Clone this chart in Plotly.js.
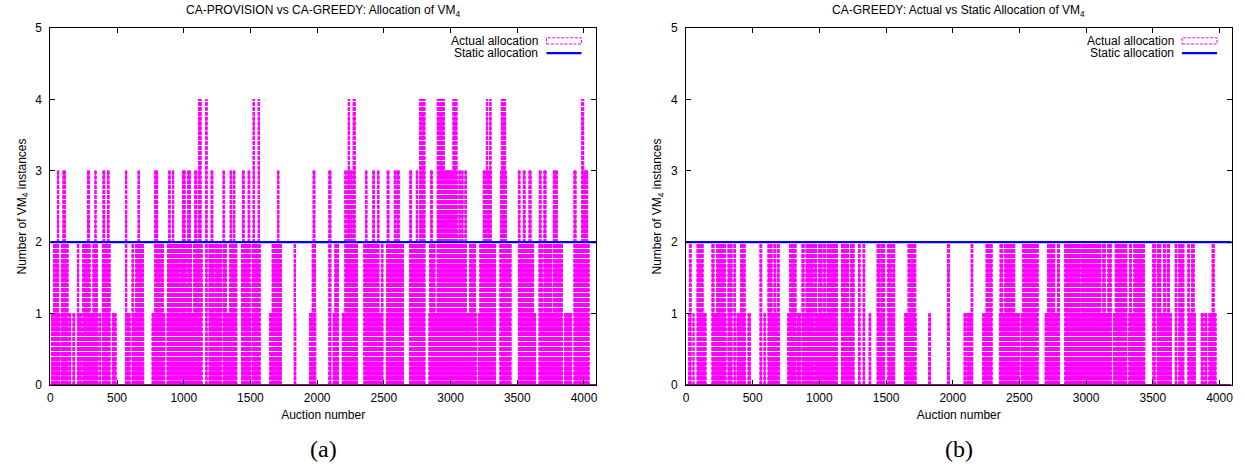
<!DOCTYPE html>
<html>
<head>
<meta charset="utf-8">
<script src="https://cdn.plot.ly/plotly-3.0.1.min.js"></script>
<style>html,body{margin:0;padding:0;background:#fff;}#chart{width:1245px;height:468px;}</style>
</head>
<body>
<div id="chart"></div>
<script>
// ---------------- DATA (run-length encoded) ----------------
// Panel (a): CA-PROVISION vs CA-GREEDY, allocation of VM4 per auction
const provRunStart = [
  // value 1
  8,38,58,83,140,170,203,243,370,390,465,563,613,763,875,1190,1295,1433,1513,1645,1828,1943,
  2120,2188,2350,2518,2693,2838,3208,3370,3508,3663,3853,3925,
  // value 2
  23,38,83,203,243,320,390,563,613,640,783,878,975,1033,1075,1190,1238,1295,1345,1433,1513,1663,1828,1963,
  2088,2133,2208,2350,2483,2520,2693,2843,2900,3143,3220,3370,3508,3663,3700,3770,3925,
  // value 3
  53,95,278,335,395,428,563,658,783,915,990,1030,1083,1205,1295,1348,1373,1440,1483,1703,1970,
  2088,2208,2228,2253,2270,2363,2418,2453,2525,2578,2598,2695,2743,2768,2850,2900,3063,3083,3108,
  3245,3268,3375,3508,3545,3588,3665,3700,3770,3925,3983,
  // value 4
  888,1110,1165,1520,1558,2233,2270,2768,2788,2900,3018,3268,3293,3380,3983
];
const provRunEnd = [
  33,48,73,133,153,183,233,358,378,448,493,598,700,858,1138,1283,1398,1503,1573,1733,1840,1990,
  2160,2303,2493,2648,2808,3193,3338,3453,3638,3838,3908,4038,
  33,53,133,213,298,353,448,573,623,698,848,968,1020,1058,1138,1228,1283,1320,1398,1498,1573,1733,1838,1988,
  2103,2160,2303,2463,2493,2648,2808,2883,3118,3188,3338,3453,3623,3688,3758,3838,4038,
  63,113,293,343,408,440,573,668,805,925,1010,1050,1098,1218,1305,1360,1383,1453,1495,1713,1983,
  2103,2218,2248,2263,2285,2373,2430,2463,2538,2588,2615,2708,2753,2808,2863,3050,3073,3093,3118,
  3263,3305,3418,3520,3558,3603,3678,3715,3800,3940,4028,
  898,1130,1175,1530,1568,2243,2285,2783,2808,2953,3048,3278,3303,3413,3998
];
const provRunValue = [
  1,1,1,1,1,1,1,1,1,1,1,1,1,1,1,1,1,1,1,1,1,1,
  1,1,1,1,1,1,1,1,1,1,1,1,
  2,2,2,2,2,2,2,2,2,2,2,2,2,2,2,2,2,2,2,2,2,2,2,2,
  2,2,2,2,2,2,2,2,2,2,2,2,2,2,2,2,2,
  3,3,3,3,3,3,3,3,3,3,3,3,3,3,3,3,3,3,3,3,3,
  3,3,3,3,3,3,3,3,3,3,3,3,3,3,3,3,3,3,3,3,
  3,3,3,3,3,3,3,3,3,3,3,
  4,4,4,4,4,4,4,4,4,4,4,4,4,4,4
];

// Panel (b): CA-GREEDY, actual allocation of VM4 per auction
const greedyRunStart = [
  // value 1
  20,53,83,195,315,360,383,465,555,585,615,763,833,870,965,1108,1185,1293,1373,1433,1513,1640,1820,1960,
  2085,2108,2225,2350,2513,2693,2840,3205,3320,3500,3538,3668,3695,3763,3863,3890,3920,
  // value 2
  25,83,195,230,315,360,410,555,615,660,685,778,870,900,965,995,1033,1058,1165,1185,1235,1293,1328,
  1433,1465,1513,1550,1665,1685,1960,
  2138,2250,2275,2355,2390,2455,2525,2710,2785,2840,2965,3125,3163,3218,3325,3358,3500,3533,3580,
  3608,3668,3695,3763,3790,3945,3975
];
const greedyRunEnd = [
  38,60,150,300,345,370,445,483,568,595,700,825,860,958,1095,1135,1260,1305,1385,1490,1565,1725,1833,1975,
  2100,2150,2295,2500,2640,2800,3190,3305,3440,3518,3640,3680,3733,3820,3878,3905,4025,
  38,128,210,295,345,370,443,568,645,673,698,825,885,955,980,1020,1045,1135,1180,1220,1260,1305,1340,
  1455,1490,1540,1565,1680,1723,1975,
  2150,2268,2295,2375,2450,2465,2640,2765,2800,2955,3110,3143,3188,3305,3340,3438,3518,3560,3595,
  3625,3680,3733,3775,3810,3960,4025
];
const greedyRunValue = [
  1,1,1,1,1,1,1,1,1,1,1,1,1,1,1,1,1,1,1,1,1,1,1,1,
  1,1,1,1,1,1,1,1,1,1,1,1,1,1,1,1,1,
  2,2,2,2,2,2,2,2,2,2,2,2,2,2,2,2,2,2,2,2,2,2,2,
  2,2,2,2,2,2,2,
  2,2,2,2,2,2,2,2,2,2,2,2,2,2,2,2,2,2,2,
  2,2,2,2,2,2
];

// Static allocation of VM4 (constant over all auctions)
const staticAllocation = 2;
const auctionSpan = [0, 4100];

const xTickVals = [0, 500, 1000, 1500, 2000, 2500, 3000, 3500, 4000];
const yTickVals = [0, 1, 2, 3, 4, 5];

const titleA = 'CA-PROVISION vs CA-GREEDY: Allocation of VM<sub>4</sub>';
const titleB = 'CA-GREEDY: Actual vs Static Allocation of VM<sub>4</sub>';
const legendLabels = ['Actual allocation', 'Static allocation'];
const xTitle = 'Auction number';
const yTitle = 'Number of VM<sub>4</sub> instances';
const captions = ['(a)', '(b)'];

// ---------------- BUILD ----------------
function impulses(starts, ends, values) {
  const alloc = new Map();
  for (let i = 0; i < starts.length; i++) {
    for (let a = starts[i]; a <= ends[i]; a++) {
      alloc.set(a, Math.max(alloc.get(a) || 0, values[i]));
    }
  }
  const keys = Array.from(alloc.keys()).sort((p, q) => p - q);
  const x = [], y = [];
  keys.forEach(k => { x.push(k, k, null); y.push(0, alloc.get(k), null); });
  return {x, y};
}

const W = 1245, H = 468;
const px = v => v / W;
const py = v => 1 - v / H;
const panels = [
  {left: 50.3, right: 596.0},
  {left: 686.0, right: 1231.5}
];
const plotTop = 28, plotBottom = 385;

const MAG = '#ff00ff', BLUE = '#0000ff';
const FONT = 'Liberation Sans, Arial, Helvetica, sans-serif';
const DASH = '3.5px,1.4px';

const A = impulses(provRunStart, provRunEnd, provRunValue);
const B = impulses(greedyRunStart, greedyRunEnd, greedyRunValue);

const traces = [
  {x: A.x, y: A.y, xaxis: 'x', yaxis: 'y', type: 'scatter', mode: 'lines',
   line: {color: MAG, width: 1, dash: DASH, simplify: false}, connectgaps: false, showlegend: false, hoverinfo: 'skip'},
  {x: auctionSpan, y: [staticAllocation, staticAllocation], xaxis: 'x', yaxis: 'y', type: 'scatter', mode: 'lines',
   line: {color: BLUE, width: 2.2}, showlegend: false, hoverinfo: 'skip'},
  {x: B.x, y: B.y, xaxis: 'x2', yaxis: 'y2', type: 'scatter', mode: 'lines',
   line: {color: MAG, width: 1, dash: DASH, simplify: false}, connectgaps: false, showlegend: false, hoverinfo: 'skip'},
  {x: auctionSpan, y: [staticAllocation, staticAllocation], xaxis: 'x2', yaxis: 'y2', type: 'scatter', mode: 'lines',
   line: {color: BLUE, width: 2.2}, showlegend: false, hoverinfo: 'skip'}
];

function xAxis(i, anchor) {
  return {
    domain: [px(panels[i].left), px(panels[i].right)], anchor: anchor,
    range: [0, 4090], tickvals: xTickVals, ticks: 'inside', ticklen: 5, tickcolor: '#000',
    showline: true, linecolor: '#000', linewidth: 1, mirror: 'ticks',
    showgrid: false, zeroline: false, ticklabelstandoff: 2,
    tickfont: {family: FONT, size: 12, color: '#000'},
    title: {text: xTitle, font: {family: FONT, size: 12, color: '#000'}, standoff: 6}
  };
}
function yAxis(i, anchor) {
  return {
    domain: [py(plotBottom), py(plotTop)], anchor: anchor,
    range: [0, 5], tickvals: yTickVals, ticks: 'inside', ticklen: 5, tickcolor: '#000',
    showline: true, linecolor: '#000', linewidth: 1, mirror: 'ticks',
    showgrid: false, zeroline: false, ticklabelstandoff: 5,
    tickfont: {family: FONT, size: 12, color: '#000'},
    title: {text: yTitle, font: {family: FONT, size: 12, color: '#000'}, standoff: 6}
  };
}

const annotations = [];
const shapes = [];
const annFont = {family: FONT, size: 12, color: '#000'};
[titleA, titleB].forEach((t, i) => {
  const p = panels[i];
  annotations.push({text: t, xref: 'paper', yref: 'paper', x: px((p.left + p.right) / 2), y: py(11),
    xanchor: 'center', yanchor: 'middle', showarrow: false, font: annFont});
  annotations.push({text: legendLabels[0], xref: 'paper', yref: 'paper', x: px(p.right - 56), y: py(40.7),
    xanchor: 'right', yanchor: 'middle', showarrow: false, font: annFont});
  annotations.push({text: legendLabels[1], xref: 'paper', yref: 'paper', x: px(p.right - 56), y: py(53.2),
    xanchor: 'right', yanchor: 'middle', showarrow: false, font: annFont});
  annotations.push({text: captions[i], xref: 'paper', yref: 'paper', x: px((p.left + p.right) / 2), y: py(449),
    xanchor: 'center', yanchor: 'middle', showarrow: false,
    font: {family: 'Liberation Serif, DejaVu Serif, serif', size: 24, color: '#000'}});
  shapes.push({type: 'rect', xref: 'paper', yref: 'paper', x0: px(p.right - 49.5), x1: px(p.right - 14.5),
    y0: py(44), y1: py(37.8), line: {color: MAG, width: 1, dash: '3px,1.5px'}, fillcolor: 'rgba(0,0,0,0)'});
  shapes.push({type: 'line', xref: 'paper', yref: 'paper', x0: px(p.right - 49.5), x1: px(p.right - 14.5),
    y0: py(53.2), y1: py(53.2), line: {color: BLUE, width: 2.2}});
  const xr = i === 0 ? 'x' : 'x2', yr = i === 0 ? 'y' : 'y2';
  shapes.push({type: 'line', xref: xr, yref: yr, x0: 0, x1: 4090, y0: 0, y1: 0, layer: 'above',
    line: {color: '#8a0a8a', width: 2}});
});

const layout = {
  width: W, height: H,
  margin: {l: 0, r: 0, t: 0, b: 0},
  paper_bgcolor: '#fff', plot_bgcolor: '#fff',
  showlegend: false,
  xaxis: xAxis(0, 'y'), yaxis: yAxis(0, 'x'),
  xaxis2: xAxis(1, 'y2'), yaxis2: yAxis(1, 'x2'),
  annotations: annotations, shapes: shapes,
  font: {family: FONT, size: 12, color: '#000'}
};

Plotly.newPlot('chart', traces, layout, {displayModeBar: false, responsive: false});
</script>
</body>
</html>
